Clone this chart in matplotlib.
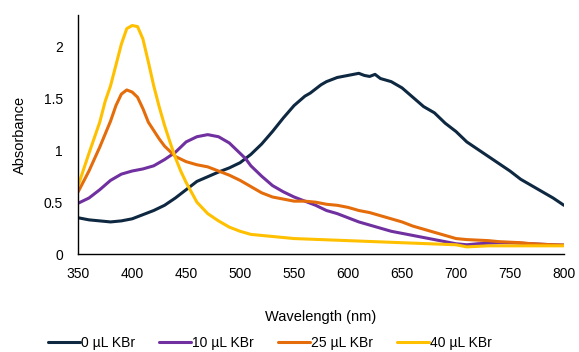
import matplotlib
matplotlib.use("Agg")
import matplotlib.pyplot as plt

plt.rcParams['font.family'] = ['Liberation Sans', 'DejaVu Sans']

wl_0 = [350, 360, 370, 380, 390, 400, 410, 420, 430, 440, 450, 460, 470, 480, 490, 500,
        510, 520, 530, 540, 550, 560, 565, 570, 575, 580, 590, 600, 610, 615, 620, 625,
        630, 640, 650, 660, 670, 680, 690, 700, 710, 720, 730, 740, 750, 760, 770, 780,
        790, 800]
abs_0 = [0.35, 0.33, 0.32, 0.31, 0.32, 0.34, 0.38, 0.42, 0.47, 0.54, 0.62, 0.70, 0.745, 0.79,
         0.83, 0.88, 0.96, 1.06, 1.18, 1.31, 1.43, 1.52, 1.55, 1.59, 1.63, 1.66, 1.70, 1.72,
         1.74, 1.72, 1.71, 1.73, 1.69, 1.66, 1.60, 1.51, 1.42, 1.36, 1.26, 1.18, 1.08, 1.01,
         0.94, 0.87, 0.80, 0.72, 0.66, 0.60, 0.54, 0.47]

wl_10 = [350, 360, 370, 380, 390, 400, 410, 420, 430, 440, 450, 460, 470, 480, 490, 500,
         505, 510, 520, 530, 540, 550, 560, 570, 580, 590, 600, 610, 620, 630, 640, 650,
         660, 670, 680, 690, 700, 710, 720, 730, 740, 750, 760, 770, 780, 790, 800]
abs_10 = [0.49, 0.54, 0.62, 0.71, 0.77, 0.80, 0.82, 0.85, 0.91, 0.98, 1.08, 1.13, 1.15, 1.13,
          1.07, 0.97, 0.92, 0.85, 0.75, 0.66, 0.60, 0.55, 0.51, 0.47, 0.42, 0.39, 0.35, 0.31,
          0.28, 0.25, 0.22, 0.20, 0.18, 0.16, 0.14, 0.12, 0.10, 0.09, 0.10, 0.105, 0.11, 0.11,
          0.105, 0.10, 0.095, 0.09, 0.087]

wl_25 = [350, 360, 370, 380, 385, 390, 395, 400, 405, 410, 415, 420, 425, 430, 440, 450,
         460, 470, 480, 490, 500, 510, 520, 530, 540, 550, 560, 570, 580, 590, 600, 610,
         620, 630, 640, 650, 660, 670, 680, 690, 700, 710, 720, 730, 740, 750, 760, 770,
         780, 790, 800]
abs_25 = [0.60, 0.80, 1.03, 1.28, 1.43, 1.54, 1.58, 1.56, 1.51, 1.40, 1.27, 1.19, 1.11, 1.04,
          0.94, 0.89, 0.86, 0.84, 0.80, 0.76, 0.71, 0.65, 0.59, 0.55, 0.53, 0.51, 0.51, 0.50,
          0.48, 0.47, 0.45, 0.42, 0.40, 0.37, 0.34, 0.31, 0.27, 0.24, 0.21, 0.18, 0.15, 0.14,
          0.135, 0.13, 0.12, 0.115, 0.11, 0.10, 0.095, 0.09, 0.087]

wl_40 = [350, 360, 370, 375, 380, 385, 390, 395, 400, 405, 410, 415, 420, 425, 430, 435,
         440, 445, 450, 460, 470, 480, 490, 500, 510, 520, 530, 540, 550, 575, 600, 650,
         700, 710, 730, 800]
abs_40 = [0.66, 0.97, 1.27, 1.47, 1.62, 1.82, 2.02, 2.17, 2.20, 2.19, 2.07, 1.85, 1.62, 1.42,
          1.24, 1.08, 0.93, 0.80, 0.69, 0.50, 0.39, 0.32, 0.26, 0.22, 0.19, 0.18, 0.17, 0.16,
          0.15, 0.14, 0.13, 0.11, 0.09, 0.07, 0.08, 0.08]

labels = ['0 µL KBr', '10 µL KBr', '25 µL KBr', '40 µL KBr']
colors = ['#0E2841', '#7030A0', '#E46C0A', '#FFC000']

xticks = [350, 400, 450, 500, 550, 600, 650, 700, 750, 800]
yticks = [0, 0.5, 1, 1.5, 2]
yticklabels = ['0', '0.5', '1', '1.5', '2']

fig = plt.figure(figsize=(5.79, 3.52), dpi=100)
ax = fig.add_axes([0.135, 0.278, 0.839, 0.679])

series = [(wl_0, abs_0), (wl_10, abs_10), (wl_25, abs_25), (wl_40, abs_40)]
for (x, y), lab, c in zip(series, labels, colors):
    ax.plot(x, y, color=c, lw=2.2, label=lab, solid_capstyle='round', solid_joinstyle='round')

ax.set_xlim(350, 800)
ax.set_ylim(0, 2.3)
ax.set_xticks(xticks)
ax.set_xticklabels([str(t) for t in xticks])
ax.set_yticks(yticks)
ax.set_yticklabels(yticklabels)
ax.tick_params(axis='both', length=0, labelsize=10, colors='#000000')
ax.tick_params(axis='x', pad=9)
ax.tick_params(axis='y', pad=11)
for s in ['top', 'right']:
    ax.spines[s].set_visible(False)
for s in ['left', 'bottom']:
    ax.spines[s].set_color('#000000')
    ax.spines[s].set_linewidth(1.0)

ax.set_xlabel('Wavelength (nm)', fontsize=10.5, labelpad=21)
ax.set_ylabel('Absorbance', fontsize=10.5, labelpad=12)

leg = fig.legend(loc='center', bbox_to_anchor=(0.466, 0.025), ncol=4, frameon=False,
                 fontsize=10, handlelength=2.3, handletextpad=0.1, columnspacing=1.7)

fig.savefig('out.png', dpi=100)
